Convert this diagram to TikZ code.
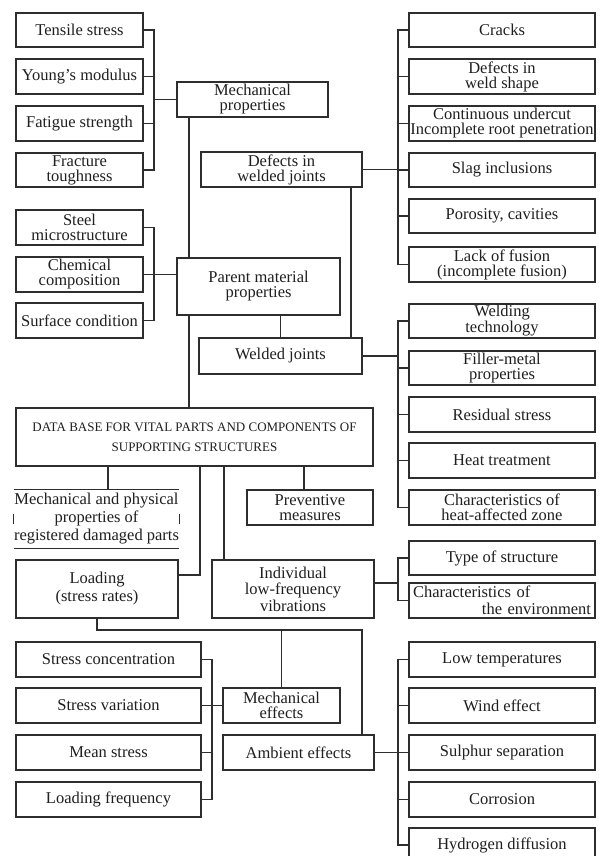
\documentclass[tikz,border=0pt]{standalone}
\usepackage{fontspec}
\setmainfont{Liberation Serif}
\definecolor{linec}{gray}{0.18}
\definecolor{textc}{gray}{0.12}
\tikzset{
  bx/.style={draw=linec, line width=1.2pt, fill=white, inner sep=0pt, align=center,
             font=\fontsize{16.5}{15}\selectfont, text=textc},
  sz/.style 2 args={minimum width=#1, minimum height=#2},
  ln/.style={draw=linec, line width=1.2pt},
}
\begin{document}
\begin{tikzpicture}[x=1pt,y=-1pt]
\useasboundingbox (0,0) rectangle (603,856);
\fill[white] (0,0) rectangle (603,856);
\clip (0,0) rectangle (603,856);

\coordinate (bL) at (154,0);
\coordinate (bR) at (398,0);
\coordinate (bL3) at (212,0);
\coordinate (vx) at (189,0);
\coordinate (v2) at (351,0);
\coordinate (v3) at (200,0);
\coordinate (v4) at (224,0);
\coordinate (jn) at (362,630);

% ---------- left group 1
\node[bx, sz={127}{34}] (ts) at (79.5,30)    {Tensile stress};
\node[bx, sz={127}{35}] (ym) at (79.5,76.5)  {Young's modulus};
\node[bx, sz={127}{35}] (fs) at (79.5,123.5) {Fatigue strength};
\node[bx, sz={127}{34}] (ft) at (79.5,170)   {Fracture\\toughness};
\node[bx, sz={151}{35}] (mp) at (252.5,99.5) {Mechanical\\properties};

% ---------- right group 1
\node[bx, sz={186}{34}] (cr)  at (502,30)    {Cracks};
\node[bx, sz={186}{35}] (dws) at (502,76.5)  {Defects in\\weld shape};
\node[bx, sz={186}{35}] (cu)  at (502,123.5) {Continuous undercut\\Incomplete root penetration};
\node[bx, sz={186}{34}] (si)  at (502,170)   {Slag inclusions};
\node[bx, sz={186}{34}] (pc)  at (502,216)   {Porosity, cavities};
\node[bx, sz={186}{35}] (lf)  at (502,264.5) {Lack of fusion\\(incomplete fusion)};
\node[bx, sz={161}{35}] (dwj) at (281.5,169.5) {Defects in\\welded joints};

% ---------- left group 2
\node[bx, sz={127}{35}] (sm) at (79.5,227.5) {Steel\\microstructure};
\node[bx, sz={127}{35}] (cc) at (79.5,274.5) {Chemical\\composition};
\node[bx, sz={127}{35}] (sc) at (79.5,320.5) {Surface condition};
\node[bx, sz={163}{57}] (pmp) at (258.5,286.5) {Parent material\\properties};
\node[bx, sz={163}{36}] (wj) at (280.5,356) {Welded joints};

% ---------- right group 2
\node[bx, sz={186}{34}] (wt) at (502,321)   {Welding\\technology};
\node[bx, sz={186}{34}] (fm) at (502,368)   {Filler-metal\\properties};
\node[bx, sz={186}{35}] (rs) at (502,414.5) {Residual stress};
\node[bx, sz={186}{35}] (ht) at (502,460.5) {Heat treatment};
\node[bx, sz={186}{35}] (ch) at (502,507.5) {Characteristics of\\heat-affected zone};

% ---------- data base
\node[bx, sz={357}{58}, font=\fontsize{13}{20}\selectfont] (db) at (194.5,437)
  {DATA BASE FOR VITAL PARTS AND COMPONENTS OF\\SUPPORTING STRUCTURES};

\node[sz={161}{58}, inner sep=0pt, align=center, text=textc,
      font=\fontsize{16.5}{18}\selectfont] (mpp) at (96.5,519)
  {Mechanical and physical\\properties of\\registered damaged parts};
\node[bx, sz={126}{35}] (pm) at (310,507.5) {Preventive\\measures};
\node[bx, sz={162}{58}, font=\fontsize{16.5}{18}\selectfont] (ld) at (97,589) {Loading\\(stress rates)};
\node[bx, sz={162}{58}, font=\fontsize{16.5}{16.5}\selectfont] (ilv) at (293,589)
  {Individual\\low-frequency\\vibrations};
\node[bx, sz={186}{34}] (ts2) at (502,558) {Type of structure};
\node[bx, sz={186}{35}, align=left, inner xsep=4pt, text width=178pt, font=\fontsize{16.5}{17}\selectfont] (ce) at (502,600.5)
  {Characteristics of\\\makebox[178pt][r]{the environment}};

% ---------- lower part
\node[bx, sz={117}{35}] (me) at (281.5,705.5) {Mechanical\\effects};
\node[bx, sz={151}{35}] (ae) at (298.5,752.5) {Ambient effects};

\node[bx, sz={185}{35}] (sco) at (108.5,659.5) {Stress concentration};
\node[bx, sz={185}{35}] (sv)  at (108.5,705.5) {Stress variation};
\node[bx, sz={185}{35}] (ms)  at (108.5,752.5) {Mean stress};
\node[bx, sz={185}{35}] (lfq) at (108.5,799.5) {Loading frequency};

\node[bx, sz={186}{35}] (lt) at (502,659.5) {Low temperatures};
\node[bx, sz={186}{35}] (we) at (502,705.5) {Wind effect};
\node[bx, sz={186}{35}] (ss) at (502,752.5) {Sulphur separation};
\node[bx, sz={186}{35}] (co) at (502,799.5) {Corrosion};
\node[bx, sz={186}{34}] (hd) at (502,845)   {Hydrogen diffusion};

% ---------- connectors
\draw[ln] (ts.east) -- (ts.east -| bL) -- (ft.east -| bL) -- (ft.east);
\foreach \n in {ym,fs} \draw[ln] (\n.east) -- (\n.east -| bL);
\draw[ln] (bL |- mp.west) -- (mp.west);

\draw[ln] (cr.west) -- (cr.west -| bR) -- (lf.west -| bR) -- (lf.west);
\foreach \n in {dws,cu,si,pc} \draw[ln] (\n.west) -- (\n.west -| bR);
\draw[ln] (dwj.east) -- (dwj.east -| bR);

\draw[ln] (mp.south -| vx) -- (pmp.north -| vx);
\draw[ln] (pmp.south -| vx) -- (db.north -| vx);

\draw[ln] (sm.east) -- (sm.east -| bL) -- (sc.east -| bL) -- (sc.east);
\draw[ln] (cc.east) -- (pmp.west |- cc.east);

\draw[ln] (wj.north) -- (wj.north |- pmp.south);
\draw[ln] (dwj.south -| v2) -- (wj.north -| v2);

\draw[ln] (wt.west) -- (wt.west -| bR) -- (ch.west -| bR) -- (ch.west);
\foreach \n in {fm,rs,ht} \draw[ln] (\n.west) -- (\n.west -| bR);
\draw[ln] (wj.east) -- (wj.east -| bR);

% box of registered damaged parts (sides hidden by the text)
\draw[ln] (mpp.north west) -- (mpp.north east);
\draw[ln] (mpp.south west) -- (mpp.south east);
\draw[ln] ([yshift=5]mpp.west) -- ([yshift=-5]mpp.west);
\draw[ln] ([yshift=5]mpp.east) -- ([yshift=-5]mpp.east);

\draw[ln] ([xshift=11.5]mpp.north) -- ([xshift=11.5]mpp.north |- db.south);
\draw[ln] (db.south -| v3) |- ([yshift=14]ld.east);
\draw[ln] (db.south -| v4) -- (ilv.north -| v4);
\draw[ln] ([xshift=-6]pm.north) -- ([xshift=-6]pm.north |- db.south);

\draw[ln] ([yshift=6]ilv.east) -- ([yshift=6]ilv.east -| bR);
\draw[ln] (ts2.west) -- (ts2.west -| bR) -- (ce.west -| bR) -- (ce.west);

\draw[ln] (ld.south) |- (jn) -- (jn |- ae.north);
\draw[ln] (me.north) -- (me.north |- jn);

\draw[ln] (sco.east) -- (sco.east -| bL3) -- (lfq.east -| bL3) -- (lfq.east);
\draw[ln] (ms.east) -- (ms.east -| bL3);
\draw[ln] (sv.east) -- (me.west);

\draw[ln] (lt.west) -- (lt.west -| bR) -- (hd.west -| bR) -- (hd.west);
\foreach \n in {we,ss,co} \draw[ln] (\n.west) -- (\n.west -| bR);
\draw[ln] (ae.east) -- (ae.east -| bR);
\end{tikzpicture}
\end{document}
